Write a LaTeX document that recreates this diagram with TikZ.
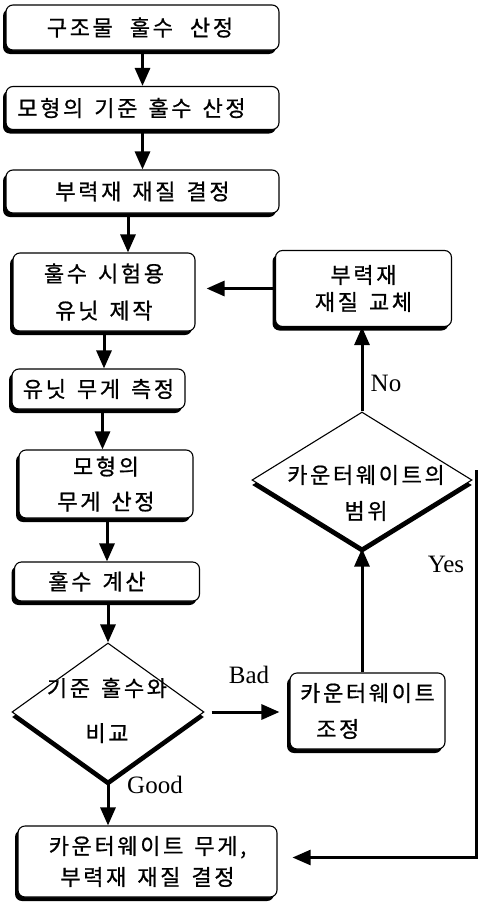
\documentclass[tikz,border=0pt]{standalone}
\usepackage{fontspec}
\newfontfamily\kr[FakeBold=0.8,LetterSpace=12]{Noto Sans CJK KR}
\newfontfamily\lat{Liberation Serif}
\usetikzlibrary{shapes.geometric,shadows,arrows.meta}
% word gap inside the Korean labels
\newcommand\gp{\hspace{11pt}}

\begin{document}
\begin{tikzpicture}[x=1pt,y=-1pt,
  box/.style={draw, line width=1.1pt, rounded corners=7pt, fill=white, inner sep=0pt,
    align=center, font=\kr\fontsize{22}{26}\selectfont,
    drop shadow={shadow xshift=-3pt, shadow yshift=-4pt, opacity=1, fill=black}},
  dia/.style={draw, diamond, line width=1.1pt, fill=white, inner sep=0pt,
    drop shadow={shadow xshift=0pt, shadow yshift=-5pt, opacity=1, fill=black}},
  txt/.style={font=\kr\fontsize{22}{26}\selectfont, align=center, inner sep=0pt},
  lbl/.style={font=\lat\fontsize{25}{29}\selectfont, inner sep=0pt, anchor=base},
  arr/.style={line width=3pt, -{Triangle[length=18pt,width=15pt]}},
  yesline/.style={line width=2.4pt, -{Triangle[length=18pt,width=15pt]}},
]
\useasboundingbox (0,0) rectangle (480,910);

% main column
\node[box, minimum width=273pt, minimum height=45pt] (b1) at (142.5,27.5) {구조물\gp\hspace{6pt}훌수\gp\hspace{6pt}산정\hspace{5pt}};
\node[box, minimum width=273pt, minimum height=43pt] (b2) at (142.5,108) {모형의\gp 기준\gp 훌수\gp 산정\hspace{22pt}};
\node[box, minimum width=273pt, minimum height=43pt] (b3) at (142.5,191.5) {부력재\gp 재질\gp 결정};
\node[box, minimum width=182pt, minimum height=78pt] (b4) at (104,292) {훌수\gp 시험용\\[11pt]유닛\gp 제작};
\node[box, minimum width=173pt, minimum height=40pt] (b5) at (98.5,389) {유닛\gp 무게\gp 측정};
\node[box, minimum width=174pt, minimum height=68pt] (b6) at (106,484) {모형의\hspace{26pt}\\[9pt]무게\gp 산정};
\node[box, minimum width=185pt, minimum height=39pt] (b7) at (107,581.5) {훌수\gp 계산\hspace{20pt}};
\node[dia, minimum width=192pt, minimum height=138pt] (d1) at (108,712) {};
\node[txt] (d1t) at (107,710.5) {기준\gp 훌수와\\[19pt]비교};
\node[box, minimum width=259pt, minimum height=71pt] (b8) at (147.5,861.5) {카운터웨이트\gp 무게,\\[5pt]부력재\gp 재질\gp 결정};

% right column
\node[box, minimum width=155pt, minimum height=76pt, align=left] (b9) at (367.5,711) {카운터웨이트\\[10pt]\hspace{16pt}조정};
\node[dia, minimum width=220pt, minimum height=136pt] (d2) at (362,480) {};
\node[txt] (d2t) at (366,493) {카운터웨이트의\\[10pt]범위};
\node[box, minimum width=176pt, minimum height=76pt] (b10) at (363.5,288.5) {부력재\\[1pt]재질\gp 교체\hspace{10pt}};

% branch labels
\node[lbl] (good) at (155,793) {Good};
\node[lbl] (bad) at (249,683) {Bad};
\node[lbl] (no) at (386,391) {No};
\node[lbl] (yes) at (446,572) {Yes};

% connectors
\draw[arr] (b1) -- (b2);
\draw[arr] (b2) -- (b3);
\draw[arr] ([xshift=-14.5pt]b3.south) -- ([xshift=-14.5pt]b3.south |- b4.north);
\draw[arr] (b4.south) -- (b4.south |- b5.north);
\draw[arr] ([xshift=4pt]b5.south) -- ([xshift=4pt]b5.south |- b6.north);
\draw[arr] (b7.north |- b6.south) -- (b7.north);
\draw[arr] (d1.north |- b7.south) -- (d1.north);
\draw[arr] (d1.south) -- (d1.south |- b8.north);
\draw[arr, shorten <=7pt, shorten >=10pt] (d1.east) -- (b9.west |- d1.east);
\draw[arr] (d2.south |- b9.north) -- (d2.south);
\draw[arr] (d2.north) -- (d2.north |- b10.south);
\draw[arr, shorten >=11pt] (b10.west) -- (b10.west -| b4.east);
\draw[yesline, shorten >=15pt] ([xshift=4pt,yshift=10pt]d2.east) |- ([yshift=4pt]b8.east);
\end{tikzpicture}
\end{document}
